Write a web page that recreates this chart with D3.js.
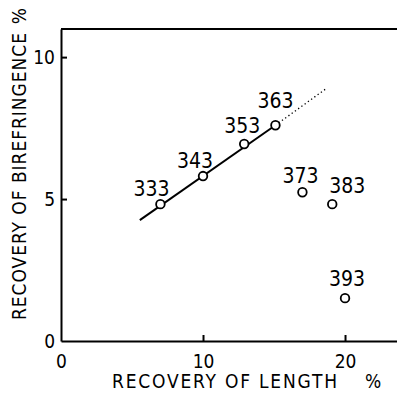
<!DOCTYPE html>
<html>
    <head>
        <title>Recovery chart</title>
        <meta charset="UTF-8">
        <script type="text/javascript" src="https://cdn.jsdelivr.net/npm/d3@7"></script>
        <style type="text/css">
            body { margin: 0; background: #fff; }
            text { font-family: "Liberation Sans Narrow", "DejaVu Sans Condensed", "DejaVu Sans", sans-serif; font-stretch: condensed; fill: #000; }
        </style>
    </head>
    <body>
        <div id="chart"></div>

        <script type="text/javascript">

            var svgW = 397; //svg width
            var svgH = 401; //svg height

            // sample names and measured values
            var samples = ["333", "343", "353", "363", "373", "383", "393"];
            var lengthRec = [7.0, 10.0, 12.9, 15.1, 17.0, 19.1, 20.0];
            var birefRec = [4.82, 5.81, 6.94, 7.6, 5.24, 4.82, 1.51];

            // fitted line: solid part and dotted extension
            var fitSolid = [[5.55, 4.26], [15.1, 7.6]];
            var fitDotted = [[15.1, 7.6], [18.7, 8.9]];

            var xTicks = [0, 10, 20];
            var yTicks = [0, 5, 10];

            // label offsets (px) relative to each point: [dx of centre, dy of baseline]
            var labelOff = [[-9, -8], [-8, -8], [-2, -11], [0, -17], [-2, -9], [15, -11], [2, -12]];

            var plotL = 61, plotR = 397, plotT = 29, plotB = 341;

            var x = d3.scaleLinear().domain([0, 23.66]).range([plotL, plotR]);
            var y = d3.scaleLinear().domain([0, 10.99]).range([plotB, plotT]);

            var svg = d3.select("#chart").append("svg")
                    .attr("width", svgW)
                    .attr("height", svgH);

            // top frame line
            svg.append("line")
                    .attr("x1", plotL).attr("x2", plotR)
                    .attr("y1", plotT).attr("y2", plotT)
                    .attr("stroke", "#000").attr("stroke-width", 2);

            var xAxis = svg.append("g")
                    .attr("transform", "translate(0," + plotB + ")")
                    .call(d3.axisBottom(x).tickValues(xTicks).tickSize(-6).tickPadding(14).tickSizeOuter(0));
            var yAxis = svg.append("g")
                    .attr("transform", "translate(" + plotL + ",0)")
                    .call(d3.axisLeft(y).tickValues(yTicks).tickSize(-6).tickPadding(6).tickSizeOuter(0));

            [xAxis, yAxis].forEach(function (g) {
                g.attr("font-family", null);
                g.select(".domain").attr("stroke", "#000").attr("stroke-width", 2);
                g.selectAll(".tick line").attr("stroke", "#000").attr("stroke-width", 2);
                g.selectAll(".tick text").style("font-size", "19px").attr("fill", "#000");
            });
            // no tick mark at the origin
            xAxis.selectAll(".tick line").filter(function (d) { return d === 0; }).remove();
            yAxis.selectAll(".tick line").filter(function (d) { return d === 0; }).remove();
            yAxis.selectAll(".tick text").attr("x", -6);

            var line = d3.line()
                    .x(function (d) { return x(d[0]); })
                    .y(function (d) { return y(d[1]); });

            svg.append("path")
                    .attr("d", line(fitSolid))
                    .attr("fill", "none")
                    .attr("stroke", "#000")
                    .attr("stroke-width", 2);
            svg.append("path")
                    .attr("d", line(fitDotted))
                    .attr("fill", "none")
                    .attr("stroke", "#000")
                    .attr("stroke-width", 1.3)
                    .attr("stroke-dasharray", "1.3,2.7");

            var pts = samples.map(function (s, i) {
                return {name: s, lx: lengthRec[i], by: birefRec[i], off: labelOff[i]};
            });

            svg.selectAll("circle.pt")
                    .data(pts)
                    .enter()
                    .append("circle")
                    .attr("class", "pt")
                    .attr("cx", function (d) { return x(d.lx); })
                    .attr("cy", function (d) { return y(d.by); })
                    .attr("r", 4.3)
                    .attr("fill", "#fff")
                    .attr("stroke", "#000")
                    .attr("stroke-width", 1.8);

            svg.selectAll("text.lab")
                    .data(pts)
                    .enter()
                    .append("text")
                    .attr("class", "lab")
                    .attr("x", function (d) { return x(d.lx) + d.off[0]; })
                    .attr("y", function (d) { return y(d.by) + d.off[1]; })
                    .attr("text-anchor", "middle")
                    .style("font-size", "21px")
                    .text(function (d) { return d.name; });

            // axis titles
            svg.append("text")
                    .attr("x", 112).attr("y", 388)
                    .attr("textLength", 225).attr("lengthAdjust", "spacing")
                    .style("font-size", "19px")
                    .text("RECOVERY OF LENGTH");
            svg.append("text")
                    .attr("x", 373).attr("y", 388)
                    .attr("text-anchor", "middle")
                    .style("font-size", "19px")
                    .text("%");

            svg.append("text")
                    .attr("transform", "translate(26,320) rotate(-90)")
                    .attr("textLength", 287).attr("lengthAdjust", "spacing")
                    .style("font-size", "19px")
                    .text("RECOVERY OF BIREFRINGENCE");
            svg.append("text")
                    .attr("transform", "translate(26,16) rotate(-90)")
                    .attr("text-anchor", "middle")
                    .style("font-size", "19px")
                    .text("%");
        </script>
    </body>
</html>
